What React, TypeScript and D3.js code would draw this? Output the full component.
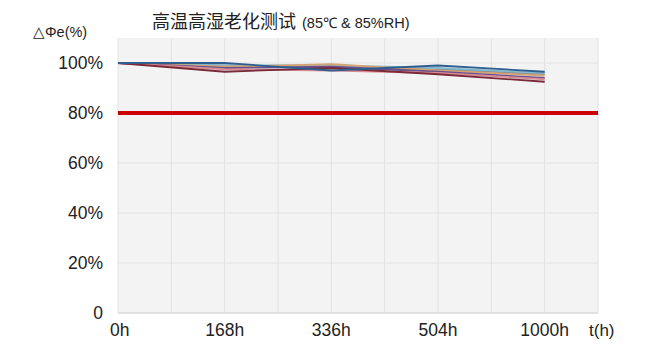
import React from "react";
import * as d3 from "d3";

const categories = ["0h", "168h", "336h", "504h", "1000h"];
const yTicks = [0, 20, 40, 60, 80, 100];
const limitValue = 80;

const seriesNames = ["S1", "S2", "S3", "S4", "S5", "S6", "S7"];
const seriesColors = ["#8a8a8a", "#7fb8d0", "#d4a373", "#6a4f8a", "#d98c94", "#7b2a3a", "#2f5f8f"];
const s1 = [100, 99, 98, 97.5, 95.5];
const s2 = [100, 99, 99, 98, 96];
const s3 = [100, 98.5, 99.5, 97, 95];
const s4 = [100, 98, 98.5, 96.5, 94];
const s5 = [100, 97.5, 97, 96, 93.5];
const s6 = [100, 96.5, 98, 95.5, 92.5];
const s7 = [100, 100, 97, 99, 96.5];
const seriesValues = [s1, s2, s3, s4, s5, s6, s7];

const W = 654;
const H = 352;
const left = 118;
const right = 598;
const top = 38;
const bottom = 313;

export default function App() {
  const x = d3.scaleLinear().domain([0, 4.5]).range([left, right]);
  const y = d3.scaleLinear().domain([0, 110]).range([bottom, top]);
  const line = d3
    .line<number>()
    .x((_, i) => x(i))
    .y((d) => y(d));
  const vGrid = d3.range(0, 4.51, 0.5);
  const latin = "'Liberation Sans', Arial, sans-serif";
  const cjk = "'Noto Sans CJK SC', sans-serif";

  return (
    <svg
      width={W}
      height={H}
      style={{ position: "absolute", left: 0, top: 0, background: "#fff" }}
    >
      <rect x={left} y={top} width={right - left} height={bottom - top} fill="#f3f3f3" />
      {vGrid.map((g) => (
        <line key={"v" + g} x1={x(g)} x2={x(g)} y1={top} y2={bottom} stroke="#e2e2e2" strokeWidth={1} />
      ))}
      {yTicks.map((t) => (
        <line key={"h" + t} x1={left} x2={right} y1={y(t)} y2={y(t)} stroke="#e2e2e2" strokeWidth={1} />
      ))}
      <line x1={left} x2={right} y1={bottom} y2={bottom} stroke="#dcdcdc" strokeWidth={1.5} />
      <line x1={left} x2={right} y1={y(limitValue)} y2={y(limitValue)} stroke="#cc0000" strokeWidth={4} />
      {seriesValues.map((vals, i) => (
        <path key={seriesNames[i]} d={line(vals) || ""} fill="none" stroke={seriesColors[i]} strokeWidth={1.8} />
      ))}
      {yTicks.map((t) => (
        <text
          key={"yl" + t}
          x={103}
          y={y(t)}
          dy="0.36em"
          textAnchor="end"
          fontFamily={latin}
          fontSize={17.5}
          fill="#222"
        >
          {t === 0 ? "0" : t + "%"}
        </text>
      ))}
      {categories.map((c, i) => (
        <text
          key={c}
          x={x(i)}
          y={336}
          textAnchor={i === 0 ? "start" : "middle"}
          dx={i === 0 ? -8 : 0}
          fontFamily={latin}
          fontSize={17.5}
          fill="#222"
        >
          {c}
        </text>
      ))}
      <text x={589} y={336} fontFamily={latin} fontSize={17} fill="#222">
        t(h)
      </text>
      <text x={33} y={37} fontFamily={latin} fontSize={14.5} fill="#222">
        △Φe(%)
      </text>
      <text x={152} y={28} fill="#222">
        <tspan fontFamily={cjk} fontSize={18} fontWeight={400}>
          高温高湿老化测试
        </tspan>
        <tspan fontFamily={latin} fontSize={14.5} dx={6}>
          (85℃ &amp; 85%RH)
        </tspan>
      </text>
    </svg>
  );
}
